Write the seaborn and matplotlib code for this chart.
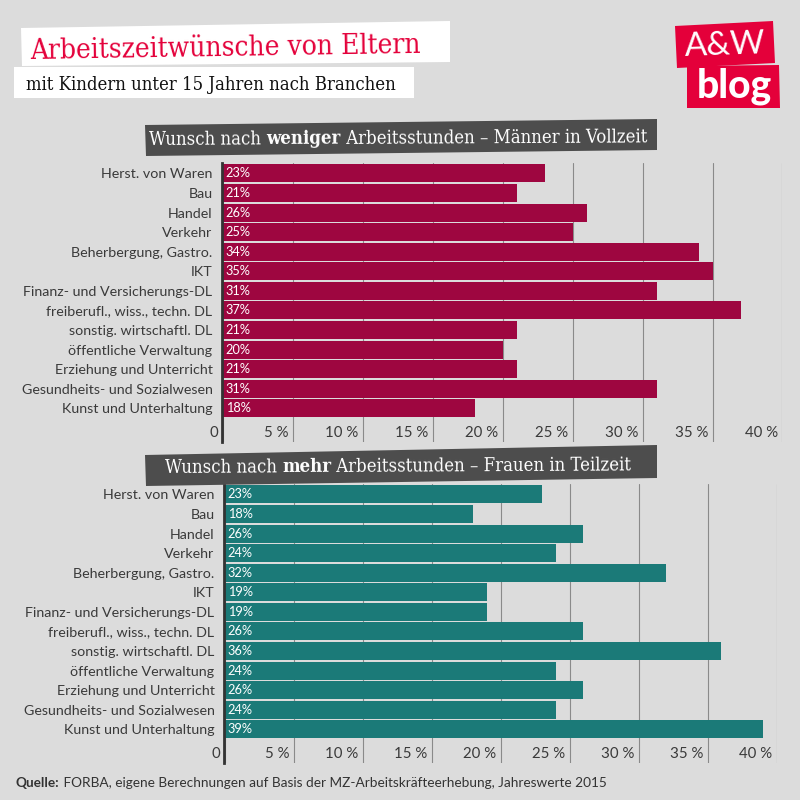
import matplotlib
matplotlib.use("Agg")
import matplotlib.pyplot as plt
import numpy as np
import pandas as pd
import seaborn as sns
from matplotlib.patches import Polygon
from matplotlib.transforms import ScaledTranslation

categories = ["Herst. von Waren", "Bau", "Handel", "Verkehr", "Beherbergung, Gastro.", "IKT",
              "Finanz- und Versicherungs-DL", "freiberufl., wiss., techn. DL", "sonstig. wirtschaftl. DL",
              "öffentliche Verwaltung", "Erziehung und Unterricht", "Gesundheits- und Sozialwesen",
              "Kunst und Unterhaltung"]
men_less = [23, 21, 26, 25, 34, 35, 31, 37, 21, 20, 21, 31, 18]
women_more = [23, 18, 26, 24, 32, 19, 19, 26, 36, 24, 26, 24, 39]
x_ticks = [0, 5, 10, 15, 20, 25, 30, 35, 40]
x_labels = ["0", "5 %", "10 %", "15 %", "20 %", "25 %", "30 %", "35 %", "40 %"]

BG = "#dcdcdc"; TXT = "#3a3a3a"; SLAB = dict(family="DejaVu Serif", stretch="condensed")
sns.set_theme(style="white", rc={"figure.facecolor": BG, "axes.facecolor": "none", "savefig.facecolor": BG})
plt.rcParams["font.family"] = ["Lato", "DejaVu Sans"]

fig = plt.figure(figsize=(8, 8), dpi=100)

def px_axes(l, t, r, b):
    return fig.add_axes([l/800, 1-b/800, (r-l)/800, (b-t)/800])

def panel(vals, color, l, r, t, b, first, pitch, label_right):
    ax = px_axes(l, t, r, b)
    df = pd.DataFrame({"cat": categories, "val": vals})
    sns.barplot(data=df, y="cat", x="val", color=color, saturation=1, width=0.92, ax=ax, zorder=3,
                edgecolor="none", linewidth=0)
    ax.set_xlim(0, 40)
    ax.set_ylim((b-first)/pitch, (t-first)/pitch)
    ax.set_xlabel(""); ax.set_ylabel("")
    sns.despine(ax=ax, top=True, right=True, bottom=True)
    ax.spines["left"].set_color("#333333"); ax.spines["left"].set_linewidth(2.0)
    ax.spines["left"].set_zorder(5); ax.spines["left"].set_position(("outward", 1))
    ax.xaxis.grid(True, color="#8a8a8a", lw=0.8, zorder=1); ax.set_axisbelow(True)
    ax.set_xticks(x_ticks, x_labels)
    ax.tick_params(axis="x", length=0, pad=-11.5, labelsize=10.8, labelcolor=TXT)
    off = ScaledTranslation(-4.5/100, 0, fig.dpi_scale_trans)
    for lab in ax.get_xticklabels():
        lab.set_ha("right"); lab.set_transform(lab.get_transform() + off)
    ax.tick_params(axis="y", length=0, pad=(l-label_right)*0.72, labelsize=10.3, labelcolor=TXT)
    for i, v in enumerate(vals):
        ax.text(0.2, i, f"{v}%", color="white", fontsize=9.2, va="center", ha="left", zorder=6)
    return ax

panel(men_less, "#9e0640", 223, 782.5, 163.4, 442.4, 173.4, 19.58, 214)
panel(women_more, "#1b7a78", 225, 776.5, 484.4, 763.4, 494.4, 19.58, 216)

ov = fig.add_axes([0, 0, 1, 1], zorder=10)
ov.set_xlim(0, 800); ov.set_ylim(800, 0); ov.axis("off"); ov.patch.set_alpha(0)

def poly(pts, c):
    ov.add_patch(Polygon(pts, closed=True, fc=c, ec="none"))

def runs(x, y, parts, size, color, rot, **font):
    """lay text runs along a slightly rotated baseline starting at pixel x, y"""
    r = fig.canvas.get_renderer(); a = np.deg2rad(rot)
    for s, w in parts:
        t = ov.text(x, y, s, fontsize=size, color=color, fontweight=w, va="baseline", ha="left",
                    rotation=rot, rotation_mode="anchor", **font)
        t.set_rotation(0); wd = t.get_window_extent(r).width; t.set_rotation(rot)
        x += wd*np.cos(a); y -= wd*np.sin(a)

poly([(21, 28), (450, 21), (450, 62), (22, 66)], "white")
poly([(14, 67), (414, 67), (414, 98), (14, 98)], "white")
runs(30, 59, [("Arbeitszeitwünsche von Eltern", "normal")], 20.1, "#e4003a", 0.9, **SLAB)
runs(26, 90, [("mit Kindern unter 15 Jahren nach Branchen", "normal")], 13.2, "#111111", 0, **SLAB)

poly([(145, 125), (657, 119), (657, 150), (146, 156)], "#4d4d4d")
runs(149, 145, [("Wunsch nach ", "normal"), ("weniger", "bold"), (" Arbeitsstunden – Männer in Vollzeit", "normal")],
     13.3, "white", 0.3, **SLAB)
poly([(145, 455), (657, 445), (657, 478), (146, 486)], "#4d4d4d")
runs(165, 473, [("Wunsch nach ", "normal"), ("mehr", "bold"), (" Arbeitsstunden – Frauen in Teilzeit", "normal")],
     13.3, "white", 0.3, **SLAB)

poly([(675, 26), (773, 21), (775, 63), (677, 68)], "#e4003a")
poly([(687, 66), (779, 65), (780, 108), (687, 108)], "#e4003a")
ov.text(725, 46, "A&W", color="white", fontsize=24, ha="center", va="center", rotation=2, family="Lato")
ov.text(734, 86, "blog", color="white", fontsize=28, ha="center", va="center", family="Lato", fontweight="black")

runs(16, 787, [("Quelle:", "bold"), (" FORBA, eigene Berechnungen auf Basis der MZ-Arbeitskräfteerhebung, Jahreswerte 2015", "normal")],
     9.85, "#333333", 0, family="Lato")

fig.savefig("out.png", dpi=100)
